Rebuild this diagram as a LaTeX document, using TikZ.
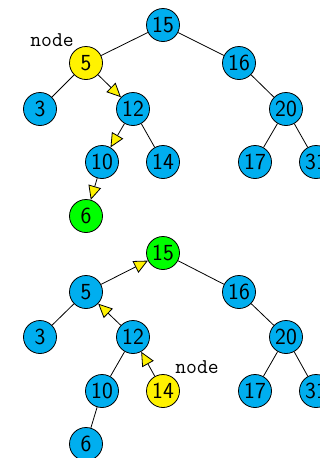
\documentclass[tikz,border=0pt]{standalone}
\usetikzlibrary{arrows.meta}
\definecolor{keyblue}{RGB}{0,174,239}
\definecolor{keyyellow}{RGB}{255,242,0}
\definecolor{keygreen}{RGB}{0,255,0}
\tikzset{
  key/.style={circle, draw=black, line width=0.8pt, fill=keyblue,
    minimum size=33pt, inner sep=0pt,
    font=\sffamily\fontsize{23}{23}\selectfont},
  cur/.style={key, fill=keyyellow},
  hit/.style={key, fill=keygreen},
  link/.style={draw=black, line width=0.8pt},
  walk/.style={link, -{Triangle[length=14pt,width=13pt,fill=keyyellow]}},
  tag/.style={font=\ttfamily\fontsize{21}{21}\selectfont, inner sep=0pt}
}
\begin{document}
\begin{tikzpicture}[x=1pt,y=-1pt]
\useasboundingbox (0,0) rectangle (320,458);
% search for 6: walk down from the root
\node[key] (a15) at (163,25) {15};
\node[cur] (a5)  at (86,63)  {5};
\node[key] (a16) at (239,63) {16};
\node[key] (a3)  at (40,109) {3};
\node[key] (a12) at (133,109) {12};
\node[key] (a20) at (286,109) {20};
\node[key] (a10) at (102,162) {10};
\node[key] (a14) at (163,162) {14};
\node[key] (a17) at (255,162) {17};
\node[key] (a31) at (316,162) {31};
\node[hit] (a6)  at (86,216) {6};
\node[tag] (atag) at (52,40) {node};
\draw[link] (a15) -- (a5);
\draw[link] (a15) -- (a16);
\draw[link] (a5) -- (a3);
\draw[walk] (a5) -- (a12);
\draw[link] (a16) -- (a20);
\draw[walk] (a12) -- (a10);
\draw[link] (a12) -- (a14);
\draw[link] (a20) -- (a17);
\draw[link] (a20) -- (a31);
\draw[walk] (a10) -- (a6);
% search for the root: walk up from 14
\node[hit] (b15) at (163,253) {15};
\node[key] (b5)  at (86,292)  {5};
\node[key] (b16) at (239,292) {16};
\node[key] (b3)  at (40,337) {3};
\node[key] (b12) at (133,337) {12};
\node[key] (b20) at (286,337) {20};
\node[key] (b10) at (102,391) {10};
\node[cur] (b14) at (163,391) {14};
\node[key] (b17) at (255,391) {17};
\node[key] (b31) at (316,391) {31};
\node[key] (b6)  at (86,444) {6};
\node[tag] (btag) at (197,367) {node};
\draw[walk] (b5) -- (b15);
\draw[link] (b15) -- (b16);
\draw[link] (b5) -- (b3);
\draw[walk] (b12) -- (b5);
\draw[link] (b16) -- (b20);
\draw[link] (b12) -- (b10);
\draw[walk] (b14) -- (b12);
\draw[link] (b20) -- (b17);
\draw[link] (b20) -- (b31);
\draw[link] (b10) -- (b6);
\end{tikzpicture}
\end{document}
